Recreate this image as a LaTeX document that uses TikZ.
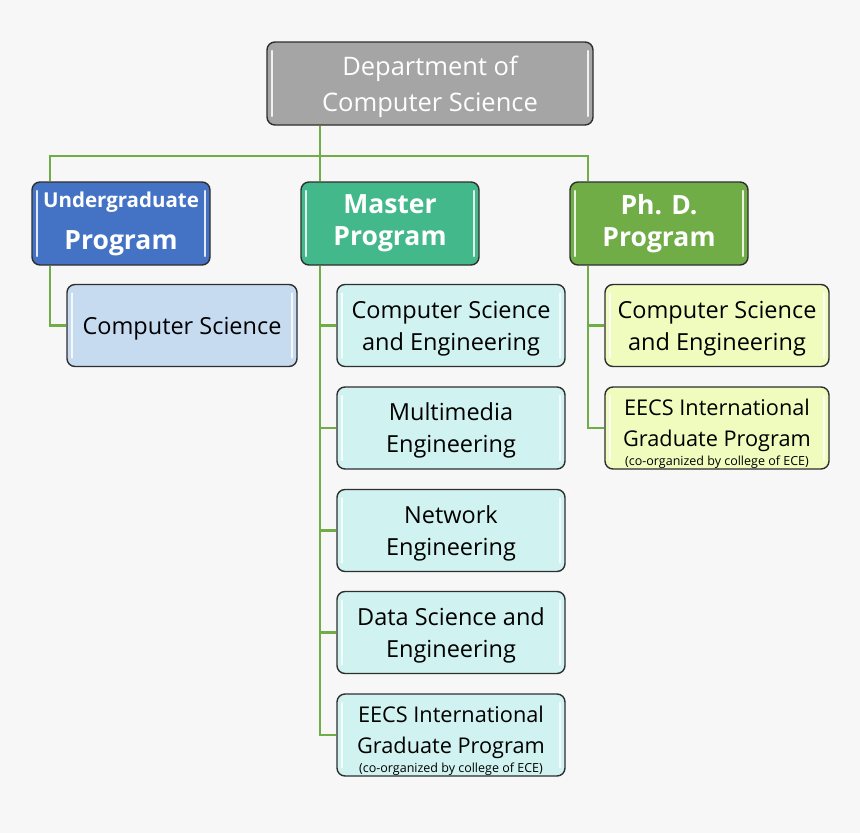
\documentclass[tikz,border=0pt]{standalone}
\usepackage{fontspec}
\setmainfont{Open Sans}
\usetikzlibrary{backgrounds}
\definecolor{bgc}{HTML}{F7F7F7}
\definecolor{deptc}{HTML}{A5A5A5}
\definecolor{ugc}{HTML}{4472C4}
\definecolor{msc}{HTML}{43B98B}
\definecolor{phc}{HTML}{70AD47}
\definecolor{ugcc}{HTML}{C6DBF0}
\definecolor{mscc}{HTML}{D0F2F0}
\definecolor{phcc}{HTML}{EFFCBE}
\definecolor{linec}{HTML}{70AD47}
\definecolor{bordc}{HTML}{2E2E2E}
\tikzset{
  box/.style={draw=bordc, line width=1.4pt, rounded corners=8pt, align=center, inner sep=0pt,
    path picture={
      \draw[white, line width=2.4pt, opacity=0.85, line cap=round]
        ([xshift=5pt,yshift=-9pt]path picture bounding box.north west) -- ([xshift=5pt,yshift=9pt]path picture bounding box.south west);
      \draw[white, line width=2.4pt, opacity=0.85, line cap=round]
        ([xshift=-5pt,yshift=-9pt]path picture bounding box.north east) -- ([xshift=-5pt,yshift=9pt]path picture bounding box.south east);
    }},
  topbox/.style={box, minimum width=178pt, minimum height=83pt, text=white, font=\fontsize{26.5}{32}\selectfont\bfseries},
  childbox/.style={box, minimum height=82pt, text=black, font=\fontsize{23.5}{32}\selectfont},
  eecsbox/.style={childbox, font=\fontsize{21.7}{31}\selectfont},
  conn/.style={draw=linec, line width=2.2pt},
}
\newcommand{\smalltxt}[1]{{\fontsize{12.5}{12.5}\selectfont #1}}
\newcommand{\lift}[1]{\rule{0pt}{#1}}
\begin{document}
\begin{tikzpicture}[x=1pt,y=-1pt]
\useasboundingbox (0,0) rectangle (860,833);
% nodes
\node[box, fill=deptc, minimum width=326pt, minimum height=83pt, text=white, font=\fontsize{25.5}{36}\selectfont] (dept) at (430,83.5) {\lift{26pt}Department of\\Computer Science};
\node[topbox, fill=ugc] (ug) at (121,223.5) {{\fontsize{20.5}{24}\selectfont Undergraduate}\\[10pt]Program};
\node[topbox, fill=msc] (ms) at (390,223.5) {Master\\Program};
\node[topbox, fill=phc] (ph) at (659,223.5) {Ph. D.\\Program};
\node[childbox, fill=ugcc, minimum width=230pt] (ugcs) at (182,325.5) {\lift{23pt}Computer Science};
\node[childbox, fill=mscc, minimum width=228pt] (m1) at (451,325.5) {\lift{23pt}Computer Science\\and Engineering};
\node[childbox, fill=mscc, minimum width=228pt] (m2) at (451,428) {\lift{23pt}Multimedia\\Engineering};
\node[childbox, fill=mscc, minimum width=228pt] (m3) at (451,530.5) {\lift{23pt}Network\\Engineering};
\node[childbox, fill=mscc, minimum width=228pt] (m4) at (451,632.5) {\lift{23pt}Data Science and\\Engineering};
\node[eecsbox, fill=mscc, minimum width=228pt] (m5) at (451,735) {\lift{28pt}EECS International\\Graduate Program\\[-12.5pt]\smalltxt{(co-organized by college of ECE)}};
\node[childbox, fill=phcc, minimum width=224pt] (p1) at (717,325.5) {\lift{23pt}Computer Science\\and Engineering};
\node[eecsbox, fill=phcc, minimum width=224pt] (p2) at (717,428) {\lift{28pt}EECS International\\Graduate Program\\[-12.5pt]\smalltxt{(co-organized by college of ECE)}};
\coordinate (tu) at (50,156);
\coordinate (tm) at (320,156);
\coordinate (tp) at (588,156);
\begin{pgfonlayer}{background}
\fill[bgc] (0,0) rectangle (860,833);
\draw[conn] (tu |- ug.north) -- (tu) -- (tp) -- (tp |- ph.north);
\draw[conn] (tm |- dept.south) -- (tm |- ms.north);
\draw[conn] (tu |- ug.south) |- (ugcs.west);
\draw[conn] (tm |- ms.south) |- (m5.west);
\foreach \n in {m1,m2,m3,m4} \draw[conn] (tm |- \n.west) -- (\n.west);
\draw[conn] (tp |- ph.south) |- (p2.west);
\draw[conn] (tp |- p1.west) -- (p1.west);
\end{pgfonlayer}
\end{tikzpicture}
\end{document}
